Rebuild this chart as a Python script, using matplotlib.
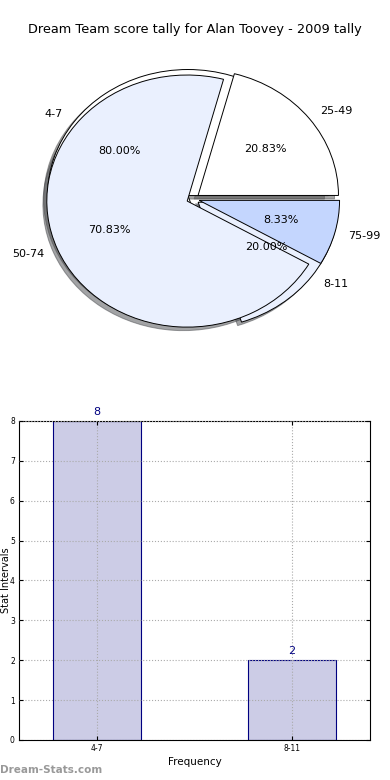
import matplotlib
matplotlib.use("Agg")
import matplotlib.pyplot as plt

# pie data (two tallies drawn over each other)
goal_labels = ["4-7", "8-11"]
goal_counts = [8, 2]
score_labels = ["25-49", "50-74", "75-99"]
score_counts = [5, 17, 2]

# bar data
bar_labels = ["4-7", "8-11"]
bar_values = [8, 2]

pie_colors = ["white", "#eaf0fe", "#c4d6fe"]

fig = plt.figure(figsize=(3.9, 7.8), dpi=100)

# pie chart
ax1 = fig.add_axes([0.045, 0.543, 0.9, 0.404])
for counts, labels in [(goal_counts, goal_labels), (score_counts, score_labels)]:
    ax1.pie(counts, labels=labels, colors=pie_colors[:len(counts)],
            explode=[0.045] * len(counts), shadow=True, startangle=0,
            autopct="%1.2f%%", pctdistance=0.6, labeldistance=1.1,
            wedgeprops=dict(edgecolor="black", linewidth=0.7),
            textprops=dict(fontsize=8))
ax1.set_aspect("auto")
ax1.set_xlim(-1.25, 1.25)
ax1.set_ylim(-1.25, 1.25)
ax1.axis("off")
fig.text(0.5, 1 - 30 / 780, "Dream Team score tally for Alan Toovey - 2009 tally",
         ha="center", va="center", fontsize=9.3)

# bar chart
ax2 = fig.add_axes([0.0487, 0.0513, 0.9, 0.409])
x = list(range(len(bar_values)))
ax2.bar(x, bar_values, width=0.45, color="#ccccE6", edgecolor="#000080",
        linewidth=0.8, zorder=2)
for xi, v in zip(x, bar_values):
    ax2.text(xi, v + 0.1, str(v), ha="center", va="bottom",
             color="#000080", fontsize=8)
ax2.set_xlim(-0.4, 1.4)
ax2.set_ylim(0, 8)
ax2.set_xticks(x)
ax2.set_xticklabels(bar_labels)
ax2.set_yticks(range(0, 9))
ax2.tick_params(direction="in", labelsize=5.5, length=3, top=True, right=True, pad=3)
ax2.grid(True, linestyle=":", color="#aaaaaa", linewidth=0.8, zorder=3)
ax2.set_axisbelow(False)
ax2.set_xlabel("Frequency", fontsize=7.5, labelpad=3)
ax2.set_ylabel("Stat Intervals", fontsize=7, labelpad=0)
ax2.yaxis.set_label_coords(-0.022, 0.5)
for s in ax2.spines.values():
    s.set_linewidth(0.8)

fig.text(0.0, 1 - 770 / 780, "Dream-Stats.com", ha="left", va="center",
         color="#999999", fontsize=7.5, fontweight="bold")

fig.savefig("out.png", dpi=100)
